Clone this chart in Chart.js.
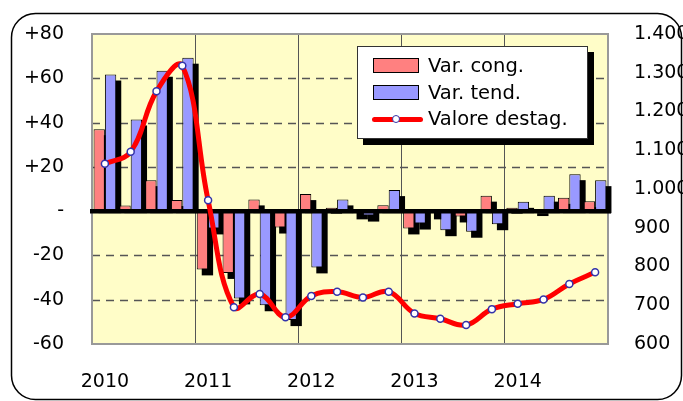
<!DOCTYPE html>
<html>
<head>
<meta charset="utf-8">
<script src="https://cdn.jsdelivr.net/npm/chart.js@4.4.1/dist/chart.umd.min.js"></script>
<style>
    body { margin: 0; background: #fff; }
    #wrap { position: relative; width: 683px; height: 401px; }
    #legend {
        position: absolute; left: 357px; top: 46px; width: 229px; height: 91px;
        background: #fff; border: 1px solid #333; box-shadow: 6px 6px 0 #000;
        font-family: 'DejaVu Sans', sans-serif; font-size: 19.5px; color: #000;
    }
    .row { position: absolute; left: 0; height: 26px; line-height: 26px; }
    .row span { position: absolute; left: 70px; white-space: nowrap; }
    .swatch { position: absolute; left: 15px; top: 5px; width: 44px; height: 13px; border: 1.5px solid #000; }
    .lineKey { position: absolute; left: 14px; top: 11px; width: 51px; height: 5px; background: #f00; border-radius: 3px; }
    .lineKey i { position: absolute; left: 20px; top: -2.5px; width: 6px; height: 6px; border-radius: 50%; background: #fff; border: 1.5px solid #3333aa; }
</style>
</head>
<body>
<div id="wrap">
    <canvas id="chart" width="683" height="401"></canvas>
    <div id="legend">
        <div class="row" style="top:6px"><div class="swatch" style="background:#ff8080"></div><span>Var. cong.</span></div>
        <div class="row" style="top:33px"><div class="swatch" style="background:#9999ff"></div><span>Var. tend.</span></div>
        <div class="row" style="top:59px"><div class="lineKey"><i></i></div><span>Valore destag.</span></div>
    </div>
</div>
<script>
const categories = [
    '2010-T1', '2010-T2', '2010-T3', '2010-T4',
    '2011-T1', '2011-T2', '2011-T3', '2011-T4',
    '2012-T1', '2012-T2', '2012-T3', '2012-T4',
    '2013-T1', '2013-T2', '2013-T3', '2013-T4',
    '2014-T1', '2014-T2', '2014-T3', '2014-T4',
];
const varCong = [37, 2.5, 14, 5, -26.3, -27.9, 5.3, -7.4, 7.7, 1.5, -1, 2.7, -7.8, -1, -2.4, 7, 1.5, 0.5, 6, 4.5];
const varTend = [61.7, 41.4, 63.4, 69.3, -7.8, -39.4, -42.5, -49.2, -25.4, 5.3, -2, 9.5, -5.6, -8.6, -9.3, -5.9, 4.2, 7, 16.7, 14];
const valoreDestag = [1065, 1096, 1252, 1318, 971, 695, 729, 669, 724, 735, 720, 735, 679, 665, 649, 690, 704, 715, 755, 785];

const leftTicks = { min: -60, max: 80, step: 20 };
const rightTicks = { min: 600, max: 1400, step: 100 };
const dashedLevels = [-40, -20, 20, 40, 60];

const font = { family: 'DejaVu Sans', size: 19 };

function leftLabel(v) {
    if (v === 0) return '-';
    return v > 0 ? '+' + v : String(v);
}

function rightLabel(v) {
    if (v >= 1000) {
        return Math.floor(v / 1000) + '.' + String(v % 1000).padStart(3, '0');
    }
    return String(v);
}

const decor = {
    id: 'decor',
    beforeDraw(chart) {
        const { ctx, chartArea: a } = chart;
        ctx.save();
        ctx.strokeStyle = '#000';
        ctx.lineWidth = 1.5;
        ctx.beginPath();
        ctx.roundRect(11.5, 13.5, 670, 386, 24);
        ctx.stroke();
        ctx.fillStyle = '#fffdc8';
        ctx.fillRect(a.left, a.top, a.width, a.height);
        ctx.restore();
    },
    beforeDatasetsDraw(chart) {
        const { ctx, chartArea: a } = chart;
        const y = chart.scales.y;
        ctx.save();
        ctx.strokeStyle = '#555';
        ctx.lineWidth = 1.3;
        ctx.setLineDash([8, 6]);
        dashedLevels.forEach(v => {
            const py = Math.round(y.getPixelForValue(v)) + 0.5;
            ctx.beginPath();
            ctx.moveTo(a.left, py);
            ctx.lineTo(a.right, py);
            ctx.stroke();
        });
        ctx.setLineDash([]);
        ctx.strokeStyle = '#999';
        ctx.lineWidth = 2;
        ctx.strokeRect(a.left, a.top, a.width, a.height);

        // bar shadows
        ctx.fillStyle = '#000';
        [0, 1].forEach(i => {
            chart.getDatasetMeta(i).data.forEach(bar => {
                const { x, y: top, base, width } = bar.getProps(['x', 'y', 'base', 'width'], true);
                const left = x - width / 2 + 5;
                if (top < base) {
                    ctx.fillRect(left, top + 6, width, base - top - 4);
                } else {
                    ctx.fillRect(left, base, width, top - base + 6);
                }
            });
        });
        ctx.restore();
    },
    beforeDatasetDraw(chart, args) {
        if (args.index !== 2) return;
        const { ctx, chartArea: a } = chart;
        const py = chart.scales.y.getPixelForValue(0);
        ctx.save();
        ctx.strokeStyle = '#000';
        ctx.lineWidth = 4.5;
        ctx.beginPath();
        ctx.moveTo(a.left - 2, py);
        ctx.lineTo(a.right + 3, py);
        ctx.stroke();
        ctx.restore();
    }
};

new Chart(document.getElementById('chart'), {
    plugins: [decor],
    data: {
        labels: categories,
        datasets: [
            {
                type: 'bar',
                label: 'Var. cong.',
                data: varCong,
                yAxisID: 'y',
                backgroundColor: '#ff8080',
                borderColor: '#000',
                borderWidth: 1,
                categoryPercentage: 0.88,
                barPercentage: 1,
                order: 1
            },
            {
                type: 'bar',
                label: 'Var. tend.',
                data: varTend,
                yAxisID: 'y',
                backgroundColor: '#9999ff',
                borderColor: '#000',
                borderWidth: 1,
                categoryPercentage: 0.88,
                barPercentage: 1,
                order: 2
            },
            {
                type: 'line',
                label: 'Valore destag.',
                data: valoreDestag,
                yAxisID: 'y2',
                borderColor: '#ff0000',
                borderWidth: 5,
                tension: 0.4,
                pointRadius: 3.5,
                pointBackgroundColor: '#fff',
                pointBorderColor: '#3333aa',
                pointBorderWidth: 1.5,
                order: 0
            }
        ]
    },
    options: {
        responsive: false,
        animation: false,
        devicePixelRatio: 1,
        layout: { padding: { top: 34, left: 0, right: 0, bottom: 0 } },
        plugins: {
            legend: { display: false },
            tooltip: { enabled: false }
        },
        scales: {
            x: {
                offset: true,
                border: { display: false },
                grid: {
                    offset: true,
                    drawTicks: false,
                    lineWidth: 1,
                    color(c) {
                        return (c.index % 4 === 0 && c.index > 0 && c.index < categories.length) ? '#555' : 'rgba(0,0,0,0)';
                    }
                },
                ticks: {
                    autoSkip: false,
                    maxRotation: 0,
                    padding: 27,
                    color: '#000',
                    font,
                    callback(v, i) {
                        return i % 4 === 0 ? categories[i].slice(0, 4) : '';
                    }
                },
                afterFit(scale) { scale.height = 57; }
            },
            y: {
                position: 'left',
                min: leftTicks.min,
                max: leftTicks.max,
                border: { display: false },
                grid: { display: false },
                ticks: {
                    stepSize: leftTicks.step,
                    padding: 20,
                    color: '#000',
                    font,
                    callback: leftLabel
                },
                afterFit(scale) { scale.width = 92; }
            },
            y2: {
                position: 'right',
                min: rightTicks.min,
                max: rightTicks.max,
                border: { display: false },
                grid: { display: false },
                ticks: {
                    stepSize: rightTicks.step,
                    padding: 18,
                    color: '#000',
                    font,
                    callback: rightLabel
                },
                afterFit(scale) { scale.width = 75; }
            }
        }
    }
});
</script>
</body>
</html>
